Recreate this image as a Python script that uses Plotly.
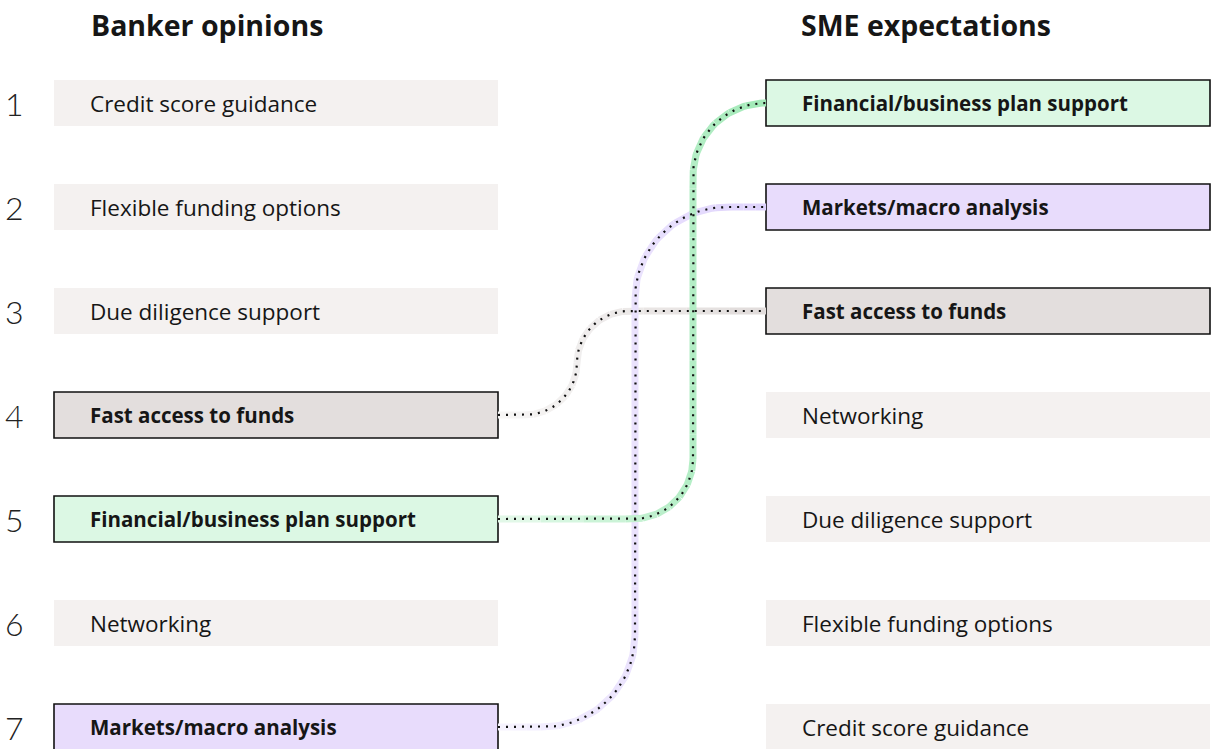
import plotly.graph_objects as go
import numpy as np

# ---------------- data ----------------
banker_order = [
    "Credit score guidance",
    "Flexible funding options",
    "Due diligence support",
    "Fast access to funds",
    "Financial/business plan support",
    "Networking",
    "Markets/macro analysis",
]
sme_order = [
    "Financial/business plan support",
    "Markets/macro analysis",
    "Fast access to funds",
    "Networking",
    "Due diligence support",
    "Flexible funding options",
    "Credit score guidance",
]
ranks = [1, 2, 3, 4, 5, 6, 7]
highlighted = ["Fast access to funds", "Markets/macro analysis", "Financial/business plan support"]
titles = ["Banker opinions", "SME expectations"]

# ---------------- styles ----------------
W, H = 1211, 749
ROW0, ROWSTEP, BOXH = 103, 104, 46
LX0, LX1 = 54, 498
RX0, RX1 = 766, 1210
TEXT_PAD = 34
fill_plain = "#f4f1f0"
fill_hi = {
    "Fast access to funds": "#e3dedd",
    "Financial/business plan support": "#dcf8e4",
    "Markets/macro analysis": "#e8dcfc",
}
band_col = {
    "Fast access to funds": (224, 219, 218),
    "Financial/business plan support": (160, 233, 182),
    "Markets/macro analysis": (222, 210, 252),
}
lane_x = {
    "Fast access to funds": 577,
    "Financial/business plan support": 693,
    "Markets/macro analysis": 635,
}
lane_r = {
    "Fast access to funds": (52, 52),
    "Financial/business plan support": (60, 73),
    "Markets/macro analysis": (92, 92),
}
FONT = "Open Sans"


def row_y(rank):
    return ROW0 + (rank - 1) * ROWSTEP


def link_path(yl, yr, xv, rb, rt):
    xs, ys = [], []

    def add(x, y):
        xs.extend(list(x)); ys.extend(list(y))

    n = 40
    add(np.linspace(LX1, xv - rb, 20), np.full(20, yl))
    th = np.linspace(np.pi / 2, 0, n)
    add(xv - rb + rb * np.cos(th), yl - rb + rb * np.sin(th))
    vlen = (yl - rb) - (yr + rt)
    if vlen > 0:
        m = max(int(vlen / 4), 2)
        add(np.full(m, xv), np.linspace(yl - rb, yr + rt, m))
    th = np.linspace(np.pi, 1.5 * np.pi, n)
    add(xv + rt + rt * np.cos(th), yr + rt + rt * np.sin(th))
    add(np.linspace(xv + rt, RX0, 20), np.full(20, yr))
    return np.array(xs), np.array(ys)


fig = go.Figure()

shapes = []
annotations = []
for side, order, x0, x1 in [(0, banker_order, LX0, LX1), (1, sme_order, RX0, RX1)]:
    for r, name in zip(ranks, order):
        yc = row_y(r)
        hi = name in highlighted
        shapes.append(dict(
            type="rect", xref="x", yref="y", x0=x0, x1=x1,
            y0=yc - BOXH / 2, y1=yc + BOXH / 2,
            fillcolor=fill_hi[name] if hi else fill_plain,
            line=dict(color="#111111" if hi else "rgba(0,0,0,0)", width=1.6 if hi else 0),
            layer="below",
        ))
        annotations.append(dict(
            x=x0 + TEXT_PAD, y=yc, xref="x", yref="y", text=name,
            showarrow=False, xanchor="left", yanchor="middle",
            font=dict(family=FONT, size=22.5 if not hi else 20.5, color="#161616",
                      weight=700 if hi else 400),
        ))

for r in ranks:
    annotations.append(dict(
        x=14, y=row_y(r), xref="x", yref="y", text=str(r), showarrow=False,
        xanchor="center", yanchor="middle",
        font=dict(family="Lato", size=32, color="#222222", weight=300),
    ))

for tx, t in zip([89, 799], titles):
    annotations.append(dict(x=tx, y=25, xref="x", yref="y", text=t, showarrow=False,
                            xanchor="left", yanchor="middle",
                            font=dict(family=FONT, size=28.5, color="#161616", weight=700)))

# connectors: bands (gradient by x) then dotted lines
draw_order = ["Fast access to funds", "Markets/macro analysis", "Financial/business plan support"]
paths = {}
for name in draw_order:
    yl = row_y(ranks[banker_order.index(name)])
    yr = row_y(ranks[sme_order.index(name)])
    rb, rt = lane_r[name]
    paths[name] = link_path(yl, yr, lane_x[name], rb, rt)

for name in draw_order:
    xs, ys = paths[name]
    base = band_col[name]
    step = 6
    for i in range(0, len(xs) - 1, step):
        j = min(i + step + 1, len(xs))
        t = (np.mean(xs[i:j]) - LX1) / (RX0 - LX1)
        a = 0.25 + 0.75 * t
        c = tuple(int(round(255 + (b - 255) * a)) for b in base)
        fig.add_trace(go.Scatter(
            x=xs[i:j], y=ys[i:j], mode="lines",
            line=dict(color="rgb(%d,%d,%d)" % c, width=7),
            hoverinfo="skip", showlegend=False,
        ))

for name in draw_order:
    xs, ys = paths[name]
    fig.add_trace(go.Scatter(
        x=xs, y=ys, mode="lines",
        line=dict(color="#111111", width=2.2, dash="2px,6px"),
        hoverinfo="skip", showlegend=False,
    ))

fig.update_layout(
    width=W, height=H,
    margin=dict(l=0, r=0, t=0, b=0),
    paper_bgcolor="white", plot_bgcolor="white",
    xaxis=dict(range=[0, W], visible=False, fixedrange=True),
    yaxis=dict(range=[H, 0], visible=False, fixedrange=True),
    shapes=shapes, annotations=annotations,
    showlegend=False,
)

fig.write_html("out.html", config={"displayModeBar": False},
               post_script="document.body.style.margin='0';document.body.style.overflow='hidden';")
